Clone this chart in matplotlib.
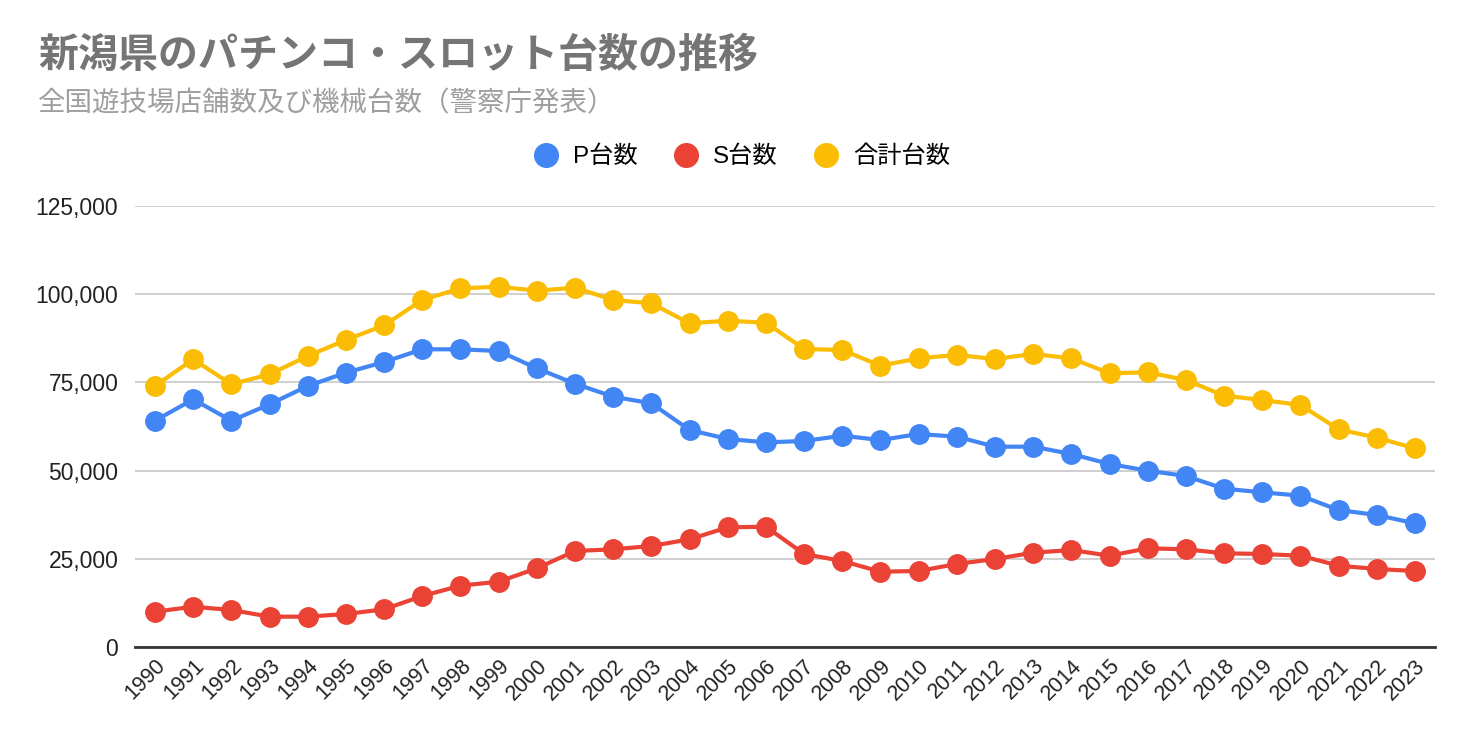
import matplotlib.pyplot as plt
from matplotlib.lines import Line2D
from matplotlib.ticker import FuncFormatter

plt.rcParams['font.family'] = ['Liberation Sans', 'Noto Sans CJK JP', 'DejaVu Sans']

years = list(range(1990, 2024))

p_units = [64140, 70200, 64140, 68790, 73980, 77750, 80780, 84380, 84380, 83900,
           79000, 74630, 70950, 69070, 61510, 58960, 58010, 58390, 59890, 58670,
           60370, 59620, 56780, 56780, 54710, 51870, 49980, 48470, 44870, 43840,
           42890, 38830, 37410, 35050]
s_units = [10000, 11420, 10490, 8600, 8600, 9350, 10680, 14460, 17380, 18510,
           22300, 27210, 27690, 28630, 30520, 33920, 34100, 26360, 24380, 21350,
           21540, 23530, 24940, 26730, 27490, 25880, 27970, 27690, 26560, 26360,
           25880, 23050, 22110, 21540]
total_units = [74000, 81550, 74460, 77300, 82480, 87020, 91180, 98360, 101670, 102130,
               101000, 101840, 98360, 97420, 91750, 92490, 91920, 84470, 84180, 79730,
               81830, 82770, 81630, 83050, 81830, 77580, 77860, 75680, 71240, 70010,
               68590, 61690, 59330, 56310]

series_names = ['P台数', 'S台数', '合計台数']
colors = ['#4285F4', '#EA4335', '#FBBC04']

fig = plt.figure(figsize=(14.72, 7.42), dpi=100)
ax = fig.add_axes([135/1472, 1 - 647/742, 1300/1472, 441/742])

for vals, col in zip([p_units, s_units, total_units], colors):
    ax.plot(years, vals, color=col, lw=3, marker='o', ms=14, zorder=3)

ax.set_xlim(1990 - 0.524, 2023 + 0.524)
ax.set_ylim(0, 125000)
ax.set_yticks(range(0, 125001, 25000))
ax.yaxis.set_major_formatter(FuncFormatter(lambda v, p: f'{int(v):,}'))
ax.set_xticks(years)
ax.set_xticklabels([str(y) for y in years], rotation=45, ha='right',
                   rotation_mode='anchor', fontsize=15.5, color='#222222')
ax.tick_params(axis='y', labelsize=16.5, labelcolor='#222222', length=0, pad=12)
ax.tick_params(axis='x', length=0, pad=6)
ax.grid(axis='y', color='#cccccc', lw=1.3)
ax.set_axisbelow(True)
for s in ['top', 'right', 'left']:
    ax.spines[s].set_visible(False)
ax.spines['bottom'].set_color('#333333')
ax.spines['bottom'].set_linewidth(2)
ax.spines['bottom'].set_zorder(2)

fig.text(38/1472, 1 - 55/742, '新潟県のパチンコ・スロット台数の推移', fontsize=28.8,
         fontweight='bold', color='#757575', family=['Noto Sans CJK JP'], va='center')
fig.text(38/1472, 1 - 104/742, '全国遊技場店舗数及び機械台数（警察庁発表）', fontsize=19.8,
         color='#9e9e9e', family=['Noto Sans CJK JP'], va='center')

handles = [Line2D([], [], color=c, marker='o', ls='none', ms=17) for c in colors]
fig.legend(handles, series_names, loc='center', bbox_to_anchor=(0.5, 1 - 157/742),
           ncol=3, frameon=False, handletextpad=0.1, columnspacing=1.0,
           prop={'family': ['Liberation Sans', 'Noto Sans CJK JP'], 'size': 17.5})

fig.savefig('out.png', dpi=100)
